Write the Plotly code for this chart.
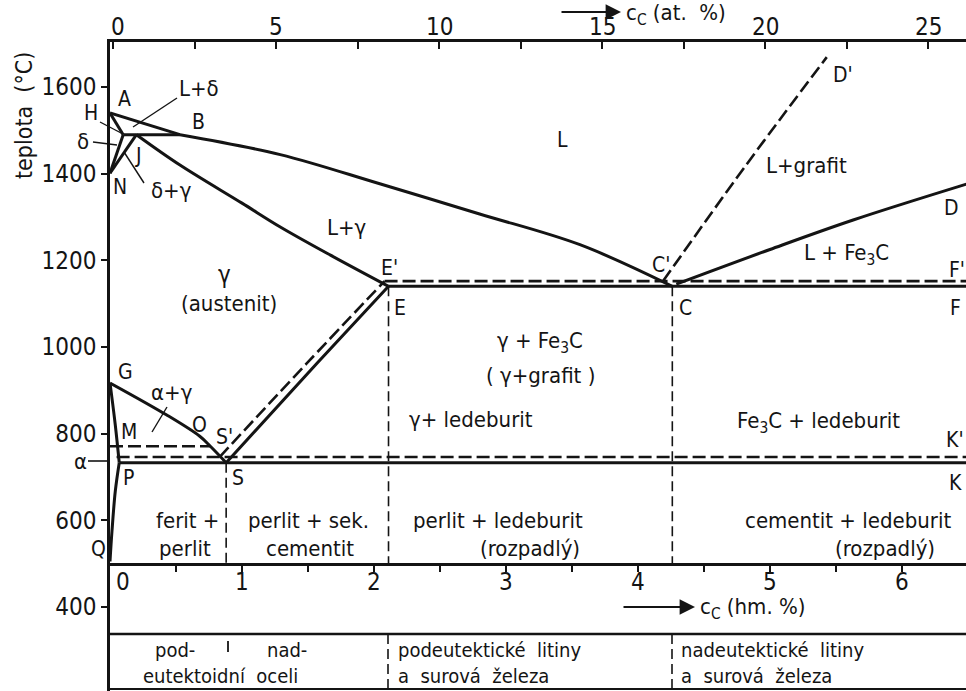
import plotly.graph_objects as go

# ---------------------------------------------------------------------------
# Fe-C (Fe-Fe3C / Fe-graphite) phase diagram
# composition in wt. % C (bottom axis), at. % C (top axis), temperature in degC
# ---------------------------------------------------------------------------

# liquidus A-B and B-C
ab_w, ab_T = [0.0, 0.53], [1540, 1490]
bc_w = [0.53, 1.29, 2.05, 2.80, 3.56, 4.26]
bc_T = [1490, 1444, 1376, 1307, 1236, 1140]

# solidus of austenite J-E
sol_w = [0.20, 0.53, 1.00, 1.29, 1.67, 2.11]
sol_T = [1490, 1420, 1332, 1277, 1212, 1140]

# liquidus of cementite C-D
cd_w = [4.29, 5.00, 5.63, 6.49]
cd_T = [1145, 1225, 1293, 1376]

# liquidus of graphite C'-D' (stable system)
cdg_w = [4.19, 4.80, 5.43]
cdg_T = [1152, 1412, 1669]

# delta-iron corner: A-H, H-N, N-J, peritectic H-J-B
ah_w, ah_T = [0.0, 0.10], [1540, 1490]
hn_w, hn_T = [0.10, 0.0], [1490, 1401]
nj_w, nj_T = [0.0, 0.20], [1401, 1490]
hb_w, hb_T = [0.10, 0.53], [1490, 1490]

# eutectic lines E-C-F (metastable) and E'-C'-F' (stable)
ecf_w, ecf_T = [2.11, 6.49], [1140, 1140]
ecf2_w, ecf2_T = [2.08, 6.49], [1152, 1152]

# Acm lines S-E and S'-E'
es_w, es_T = [0.88, 1.57, 2.11], [733, 963, 1140]
es2_w, es2_T = [0.83, 1.49, 2.08], [746, 962, 1152]

# A3 line G-O-S
gs_w = [0.0, 0.43, 0.68, 0.76, 0.88]
gs_T = [917, 843, 794, 771, 733]

# ferrite solvus G-P and P-Q
gp_w, gp_T = [0.0, 0.04, 0.07], [917, 820, 733]
pq_w, pq_T = [0.07, 0.04, 0.015, 0.0], [733, 667, 575, 505]

# Curie line M-O, eutectoid lines P-S-K and P'-S'-K'
mo_w, mo_T = [0.0, 0.76], [771, 771]
psk_w, psk_T = [0.07, 6.49], [733, 733]
psk2_w, psk2_T = [0.05, 6.49], [746, 746]

# vertical structure boundaries below the eutectoid / eutectic
s_w, s_T = [0.88, 0.88], [733, 500]
e_w, e_T = [2.11, 2.11], [1140, 500]
c_w, c_T = [4.26, 4.26], [1140, 500]

# axes
temp_ticks = [400, 600, 800, 1000, 1200, 1400, 1600]
wt_ticks = [0.5, 1, 1.5, 2, 2.5, 3, 3.5, 4, 4.5, 5, 5.5, 6, 6.5]
wt_labels = [1, 2, 3, 4, 5, 6]
at_ticks = [0, 2.5, 5, 7.5, 10, 12.5, 15, 17.5, 20, 22.5, 25]
at_labels = [0, 5, 10, 15, 20, 25]

W, H = 966, 691
ML, MT = 110, 42
PW, PH = W - ML, H - MT

INK = "#141414"
FONT = "DejaVu Sans Condensed, DejaVu Sans, sans-serif"
TICK = 24
TXT = 22
LET = 21
TAB = 20


def px(x, y):
    """pixel position -> paper fraction"""
    return (x - ML) / PW, (H - y) / PH


fig = go.Figure()

solid = [
    (ab_w, ab_T, "linear"), (bc_w, bc_T, "spline"), (sol_w, sol_T, "spline"),
    (cd_w, cd_T, "spline"),
    (ah_w, ah_T, "linear"), (hn_w, hn_T, "linear"), (nj_w, nj_T, "linear"),
    (hb_w, hb_T, "linear"), (ecf_w, ecf_T, "linear"), (es_w, es_T, "spline"),
    (gs_w, gs_T, "spline"), (gp_w, gp_T, "spline"), (pq_w, pq_T, "spline"),
    (psk_w, psk_T, "linear"),
]
dashed = [
    (cdg_w, cdg_T, "spline"), (ecf2_w, ecf2_T, "linear"),
    (es2_w, es2_T, "spline"), (mo_w, mo_T, "linear"),
    (psk2_w, psk2_T, "linear"),
]
thin_dashed = [(s_w, s_T), (e_w, e_T), (c_w, c_T)]

for xs, ys, shp in solid:
    fig.add_trace(go.Scatter(x=xs, y=ys, mode="lines",
                             line=dict(color=INK, width=3, shape=shp),
                             hoverinfo="skip", showlegend=False))
for xs, ys, shp in dashed:
    fig.add_trace(go.Scatter(x=xs, y=ys, mode="lines",
                             line=dict(color=INK, width=2.6, shape=shp,
                                       dash="13px,5px"),
                             hoverinfo="skip", showlegend=False))
for xs, ys in thin_dashed:
    fig.add_trace(go.Scatter(x=xs, y=ys, mode="lines",
                             line=dict(color=INK, width=1.6, dash="10px,5px"),
                             hoverinfo="skip", showlegend=False))

# invisible trace to activate the at. % axis
fig.add_trace(go.Scatter(x=[0, 25], y=[None, None], xaxis="x2", yaxis="y",
                         mode="lines", hoverinfo="skip", showlegend=False))

shapes = []


def seg(x0, y0, x1, y1, w=1.4, dash=None):
    a, b = px(x0, y0)
    c, d = px(x1, y1)
    ln = dict(color=INK, width=w)
    if dash:
        ln["dash"] = dash
    shapes.append(dict(type="line", xref="paper", yref="paper",
                       x0=a, y0=b, x1=c, y1=d, line=ln))


# leader lines for labels
seg(177, 98, 133, 127)
seg(93, 142, 117, 145)
seg(100, 122, 123, 134)
seg(144, 183, 124, 152)
seg(167, 407, 152, 432)
seg(88, 461, 108, 461, w=1.6)

# table below the diagram
seg(ML, 634, W, 634, w=2.5)
seg(ML, 689, W, 689, w=2)
seg(228, 641, 228, 652, w=1.8)
seg(388, 634, 388, 691, w=1.6, dash="10px,5px")
seg(672, 634, 672, 691, w=1.6, dash="10px,5px")

ann = []


def label(text, x, y, size=TXT, anchor="center", angle=0):
    a, b = px(x, y)
    ann.append(dict(text=text, x=a, y=b, xref="paper", yref="paper",
                    showarrow=False, xanchor=anchor, yanchor="middle",
                    textangle=angle,
                    font=dict(family=FONT, size=size, color=INK)))


def arrow(x0, y0, x1, y1):
    a, b = px(x1, y1)
    ann.append(dict(text="", x=a, y=b, xref="paper", yref="paper",
                    ax=x0 - x1, ay=y0 - y1, showarrow=True,
                    arrowhead=2, arrowsize=1.4, arrowwidth=2.2,
                    arrowcolor=INK))


# tick labels of both composition axes, placed on the axis values
for v in wt_labels:
    ann.append(dict(text=str(v), x=v, xref="x", y=px(0, 582)[1],
                    yref="paper", showarrow=False, xanchor="center",
                    yanchor="middle",
                    font=dict(family=FONT, size=TICK, color=INK)))
for v in at_labels:
    ann.append(dict(text=str(v), x=v, xref="x2", y=px(0, 27)[1],
                    yref="paper", showarrow=False,
                    xanchor="left" if v == 0 else "center",
                    xshift=-4 if v == 0 else 0, yanchor="middle",
                    font=dict(family=FONT, size=TICK, color=INK)))

label("teplota  (°C)", 24, 116, size=23, angle=-90)
label("A", 124, 99, LET)
label("H", 91, 113, LET)
label("L+δ", 199, 88)
label("B", 198, 122, LET)
label("δ", 83, 142)
label("J", 138, 156, LET)
label("N", 120, 187, LET)
label("δ+γ", 171, 190)
label("L", 562, 140, LET)
label("L+grafit", 806, 165)
label("D'", 843, 75, LET)
label("D", 951, 208, LET)
label("L+γ", 347, 228)
label("γ", 224, 275, 24)
label("(austenit)", 229, 303)
label("E'", 389, 268, LET)
label("E", 400, 308, LET)
label("C'", 661, 265, LET)
label("C", 685, 308, LET)
label("L + Fe<sub>3</sub>C", 846, 254)
label("F'", 957, 270, LET)
label("F", 955, 308, LET)
label("γ + Fe<sub>3</sub>C", 540, 342)
label("( γ+grafit )", 540, 375)
label("γ+ ledeburit", 471, 420)
label("Fe<sub>3</sub>C + ledeburit", 818, 422)
label("K'", 955, 440, LET)
label("K", 955, 483, LET)
label("G", 125, 372, LET)
label("α+γ", 172, 392)
label("M", 129, 432, LET)
label("O", 199, 425, LET)
label("S'", 224, 437, LET)
label("S", 238, 478, LET)
label("P", 128, 478, LET)
label("α", 80, 461)
label("Q", 98, 549, LET)
label("ferit +", 187, 520)
label("perlit", 185, 548)
label("perlit + sek.", 308, 520)
label("cementit", 310, 548)
label("perlit + ledeburit", 498, 520)
label("(rozpadlý)", 530, 548)
label("cementit + ledeburit", 848, 520)
label("(rozpadlý)", 885, 548)
label("0", 123, 582, TICK)
label("c<sub>C</sub> (hm. %)", 698, 608, anchor="left")
arrow(622, 607, 695, 607)
label("c<sub>C</sub> (at.  %)", 624, 14, anchor="left")
arrow(560, 12, 621, 12)
label("pod-", 175, 650, TAB)
label("nad-", 287, 650, TAB)
label("eutektoidní  oceli", 220, 676, TAB)
label("podeutektické  litiny", 396, 650, TAB, anchor="left")
label("a  surová  železa", 396, 676, TAB, anchor="left")
label("nadeutektické  litiny", 679, 650, TAB, anchor="left")
label("a  surová  železa", 679, 676, TAB, anchor="left")

fig.update_layout(
    width=W, height=H,
    margin=dict(l=ML, r=0, t=MT, b=0),
    paper_bgcolor="white", plot_bgcolor="white",
    showlegend=False,
    shapes=shapes, annotations=ann,
    font=dict(family=FONT, color=INK),
    xaxis=dict(range=[0, PW / 132], anchor="free", position=(H - 564) / PH,
               tickvals=wt_ticks, showticklabels=False, ticks="outside",
               ticklen=6, tickwidth=2, tickcolor=INK,
               showline=True, linewidth=2.5, linecolor=INK,
               showgrid=False, zeroline=False),
    xaxis2=dict(range=[(ML - 113) / 32.6, (W - 113) / 32.6],
                overlaying="x", side="top", anchor="y",
                tickvals=at_ticks, showticklabels=False, ticks="inside",
                ticklen=7, tickwidth=2, tickcolor=INK,
                showline=True, linewidth=2.5, linecolor=INK,
                showgrid=False, zeroline=False),
    yaxis=dict(range=[1600 - (H - 87) / 0.4333, 1600 + (87 - MT) / 0.4333],
               tickvals=temp_ticks, ticks="outside", ticklen=6, tickwidth=2,
               tickcolor=INK, showline=True, linewidth=2.5, linecolor=INK,
               showgrid=False, zeroline=False,
               tickfont=dict(family=FONT, size=TICK, color=INK)),
)

fig.write_html("out.html")
